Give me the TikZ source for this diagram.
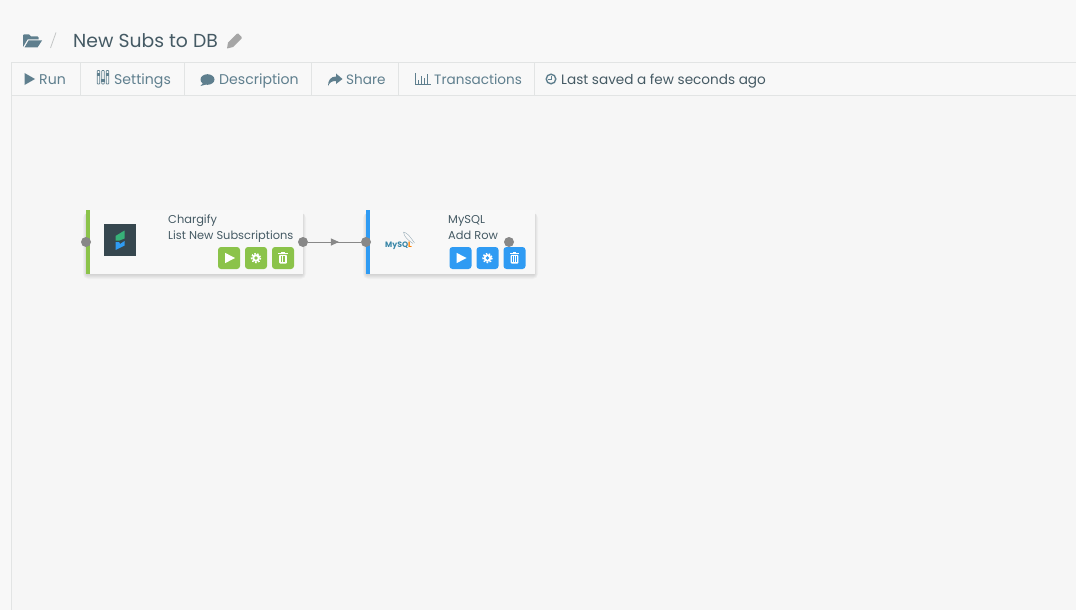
\documentclass[tikz,border=0pt]{standalone}
\usepackage{fontspec}
\setmainfont{Poppins}
\usepackage{tikz}
\usetikzlibrary{positioning,arrows.meta,decorations.markings}
\definecolor{pagebg}{HTML}{F8F8F8}
\definecolor{canvasbg}{HTML}{F6F6F6}
\definecolor{rulegray}{HTML}{E2E4E4}
\definecolor{slate}{HTML}{5F7F8E}
\definecolor{inkdark}{HTML}{455A64}
\definecolor{portgray}{HTML}{888888}
\definecolor{chargreen}{HTML}{8BC34A}
\definecolor{sqlblue}{HTML}{2F9BF3}
\definecolor{logodark}{HTML}{36474F}
\definecolor{logogreen}{HTML}{37B178}
\definecolor{logoteal}{HTML}{3A87A8}

\newcommand{\playicon}[1]{\fill[white] ([shift={(-4,-5.2)}]#1.center) -- ++(10,5.2) -- ++(-10,5.2) -- cycle;}
\newcommand{\gearicon}[2]{
	\fill[white] (#1.center) circle (3.8);
	\draw[white, line width=1.5pt, dash pattern=on 1.6pt off 1.54pt] (#1.center) circle (4.5);
	\fill[#2] (#1.center) circle (1.9);}
\newcommand{\trashicon}[2]{
	\fill[white, rounded corners=.8pt] ([shift={(-3.8,-3.2)}]#1.center) rectangle ([shift={(3.8,5.5)}]#1.center);
	\fill[white] ([shift={(-4.8,-4.8)}]#1.center) rectangle ([shift={(4.8,-3.6)}]#1.center);
	\fill[white] ([shift={(-1.8,-5.8)}]#1.center) rectangle ([shift={(1.8,-4.8)}]#1.center);
	\foreach \dx in {-1.8,0,1.8}
		\fill[#2] ([shift={(\dx-.4,-1.8)}]#1.center) rectangle ([shift={(\dx+.4,4.2)}]#1.center);}
\newcommand{\softshadow}[4]{
	\foreach \grow in {1,2,...,5}
		\fill[black, opacity=.026, rounded corners=\grow] (#1+1-\grow*.8,#2+3) rectangle (#3-1+\grow*.8,#4+\grow);}

\begin{document}
\begin{tikzpicture}
	[x=1pt, y=-1pt, inner sep=0pt,
	card/.style		= {rectangle, fill=pagebg, minimum height=64pt, anchor=north west},
	strip/.style	= {rectangle, minimum width=4pt, minimum height=64pt, anchor=north west},
	port/.style		= {circle, fill=portgray, minimum size=10pt},
	btn/.style		= {rectangle, rounded corners=3pt, minimum width=22pt, minimum height=22pt},
	cardtext/.style	= {font=\fontsize{11.4}{13}\selectfont, text=inkdark, anchor=base west},
	tooltext/.style	= {font=\fontsize{13.6}{16}\selectfont, text=slate, anchor=base west},
	toolwide/.style	= {tooltext, font=\fontsize{14.1}{16}\selectfont},
	paths/.style	= {draw=portgray, line width=.9pt, postaction={decorate},
		decoration={markings, mark=at position .585 with {\arrow{Triangle[length=8pt,width=7pt]}}}}]

	% page and canvas
	\useasboundingbox (0,0) rectangle (1076,610);
	\fill[pagebg] (0,0) rectangle (1076,610);
	\fill[canvasbg] (11.5,96) rectangle (1076,610);
	\draw[rulegray] (11.5,610) -- (11.5,62.5) -- (1076,62.5);
	\draw[rulegray] (11.5,95.5) -- (1076,95.5);
	\foreach \sepx in {80.5,184.5,311.5,398.5,534.5}
		\draw[rulegray] (\sepx,62.5) -- (\sepx,95.5);

	% header
	\fill[slate] (23,47) -- (23,35.5) -- (24,34.5) -- (29,34.5) -- (31,36.5) -- (37.5,36.5) -- (38.5,37.5) -- (38.5,39.5) -- (27.5,39.5) -- cycle;
	\fill[slate] (28.5,40.5) -- (42,40.5) -- (37.5,47.5) -- (24.5,47.5) -- cycle;
	\draw[rulegray!70!gray, line width=.8pt] (50.5,48) -- (56,32.5);
	\node at (73,48) [anchor=base west, font=\fontsize{18.8}{22}\selectfont, text=inkdark] (title) {New Subs to DB};
	\fill[gray!70] (227,48.5) -- (228,42.5) -- (236.5,34) -- (238,33.5) -- (241.5,37) -- (241.5,38.5) -- (233,47) -- cycle;

	% toolbar
	\fill[slate] (24.5,73) -- (35,79) -- (24.5,85) -- cycle;
	\node at (39,84.5) [toolwide] (run) {Run};
	\foreach \slx/\sly in {98.5/75,103/80,107.5/75}{
		\draw[slate, line width=.7pt, rounded corners=.6pt] (\slx-1.2,70.5) rectangle (\slx+1.2,84);
		\fill[slate] (\slx-1.9,\sly-1.5) rectangle (\slx+1.9,\sly+1.5);}
	\node at (114,84.5) [toolwide] (settings) {Settings};
	\fill[slate] (207.5,79.5) ellipse (7 and 5.3);
	\fill[slate] (203,83) -- (200.5,86) -- (206,84.5) -- cycle;
	\node at (219,84.5) [toolwide] (description) {Description};
	\fill[slate] (336,73.5) -- (342.5,79) -- (336,84) -- (336,81) .. controls (332,81) and (330,82) .. (328,86) .. controls (328,80) and (331,76.5) .. (336,76.5) -- cycle;
	\node at (346,84.5) [tooltext] (share) {Share};
	\draw[slate, line width=.8pt] (415,73) -- (415,84.5) -- (430.5,84.5);
	\foreach \barx/\bary in {417.5/80,420.5/76,423.5/78,426.5/74.5}
		\fill[slate] (\barx,\bary) rectangle (\barx+1.8,83.5);
	\node at (434,84.5) [tooltext] (transactions) {Transactions};
	\draw[slate, line width=1.4pt] (551,79) circle (4.8);
	\draw[slate, line width=1.1pt] (551.2,75.8) -- (551.2,79.4) -- (548.3,79.4);
	\node at (561,84.5) [tooltext, text=inkdark] (saved) {Last saved a few seconds ago};

	% chargify card
	\softshadow{86}{210}{303}{274}
	\node at (86,210) [card, minimum width=217pt] (chargify) {};
	\node at (86,210) [strip, fill=chargreen] (chargifybar) {};
	\node at (120,240) [rectangle, fill=logodark, minimum size=32pt] (chargifylogo) {};
	\fill[logogreen] (115.5,236) -- (124.5,230.5) -- (124.5,238.5) -- (119.5,240.5) -- (115.5,240.5) -- cycle;
	\fill[sqlblue] (115.5,250) -- (115.5,242) -- (119,242) -- (120,244) -- (124.5,241) -- (124.5,245.5) -- cycle;
	\node at (168,223) [cardtext] (chargifyname) {Chargify};
	\node at (168,239) [cardtext] (chargifyaction) {List New Subscriptions};
	\node at (229,258) [btn, fill=chargreen] (chargifyrun) {};
	\node at (256,258) [btn, fill=chargreen] (chargifyset) {};
	\node at (283,258) [btn, fill=chargreen] (chargifydel) {};
	\playicon{chargifyrun}
	\gearicon{chargifyset}{chargreen}
	\trashicon{chargifydel}{chargreen}

	% mysql card
	\softshadow{366}{210}{535}{274}
	\node at (366,210) [card, minimum width=169pt] (mysql) {};
	\node at (366,210) [strip, fill=sqlblue] (mysqlbar) {};
	\node at (385,247) [anchor=base west, font=\bfseries\fontsize{7.8}{9}\selectfont, text=logoteal] (mysqllogo) {MySQ\textcolor{orange}{L}};
	\draw[slate!70, line width=.35pt] (403.5,232) .. controls (408,233) and (411,238) .. (414.5,243) (403.5,232) .. controls (404,237) and (408,240) .. (413,243.5);
	\node at (448,223) [cardtext] (mysqlname) {MySQL};
	\node at (448,239) [cardtext] (mysqlaction) {Add Row};
	\node at (460.5,258) [btn, fill=sqlblue] (mysqlrun) {};
	\node at (487.5,258) [btn, fill=sqlblue] (mysqlset) {};
	\node at (514.5,258) [btn, fill=sqlblue] (mysqldel) {};
	\playicon{mysqlrun}
	\gearicon{mysqlset}{sqlblue}
	\trashicon{mysqldel}{sqlblue}

	% ports and link
	\node at (86,242) [port] (chargifyin) {};
	\node at (303,242) [port] (chargifyout) {};
	\node at (366,242) [port] (mysqlin) {};
	\node at (509,242) [port] (mysqlout) {};
	\draw [paths] (chargifyout) -- (mysqlin);
\end{tikzpicture}
\end{document}
